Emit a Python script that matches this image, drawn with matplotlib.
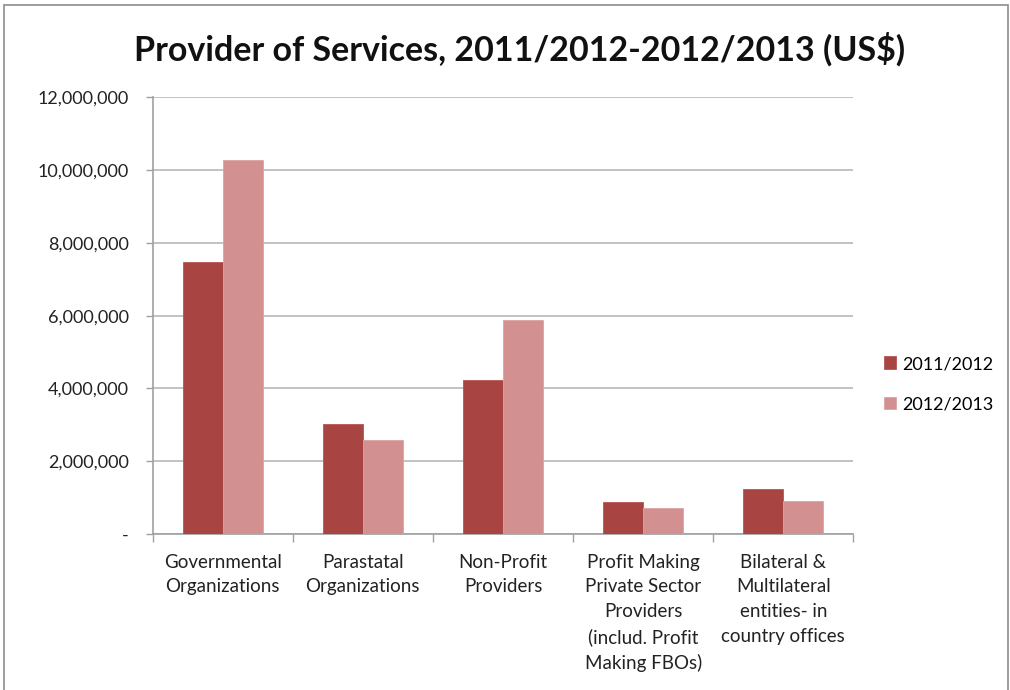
import numpy as np
import matplotlib
matplotlib.use('Agg')
import matplotlib.pyplot as plt
from matplotlib.ticker import FuncFormatter
from matplotlib.patches import Rectangle

categories = [
    "Governmental\nOrganizations",
    "Parastatal\nOrganizations",
    "Non-Profit\nProviders",
    "Profit Making\nPrivate Sector\nProviders\n(includ. Profit\nMaking FBOs)",
    "Bilateral &\nMultilateral\nentities- in\ncountry offices",
]
series_names = ["2011/2012", "2012/2013"]
values_2011 = [7470000, 3020000, 4220000, 870000, 1250000]
values_2012 = [10280000, 2590000, 5890000, 710000, 910000]
yticks = [0, 2000000, 4000000, 6000000, 8000000, 10000000, 12000000]

plt.rcParams['font.family'] = ['Lato', 'DejaVu Sans']

fig = plt.figure(figsize=(10.1, 6.9), dpi=100)
ax = fig.add_axes([0.151, 0.226, 0.694, 0.633])

x = np.arange(len(categories))
w = 0.285
ax.bar(x - w / 2, values_2011, w, color='#A84542', edgecolor='#B85552',
       linewidth=0.6, label=series_names[0], zorder=3)
ax.bar(x + w / 2, values_2012, w, color='#D29090', edgecolor='#DDA3A2',
       linewidth=0.6, label=series_names[1], zorder=3)

ax.set_xlim(-0.5, len(categories) - 0.5)
ax.set_ylim(0, 12000000)
ax.set_yticks(yticks)
ax.yaxis.set_major_formatter(FuncFormatter(lambda v, p: "-" if v == 0 else f"{v:,.0f}"))
ax.grid(axis='y', color='#BDBDBD', linewidth=1.3, zorder=0)

# category labels sit between boundary ticks
ax.set_xticks(x)
ax.set_xticklabels(categories, fontsize=13.5, color='#222222', linespacing=1.55)
ax.tick_params(axis='x', length=0, pad=14)
ax.set_xticks(np.arange(-0.5, len(categories)), minor=True)
ax.tick_params(axis='x', which='minor', length=6, color='#A0A0A0', width=1)
ax.tick_params(axis='y', length=5, color='#A0A0A0', width=1, pad=12,
               labelsize=13, labelcolor='#222222')

for s in ['top', 'right']:
    ax.spines[s].set_visible(False)
for s in ['left', 'bottom']:
    ax.spines[s].set_color('#A0A0A0')
    ax.spines[s].set_linewidth(1.2)

fig.text(0.514, 0.928, "Provider of Services, 2011/2012-2012/2013 (US$)",
         ha='center', va='center', fontsize=24.5, fontweight='bold', color='#111111')

leg = ax.legend(loc='center left', bbox_to_anchor=(1.02, 0.343), frameon=False,
                fontsize=13, handlelength=0.7, handleheight=0.7,
                handletextpad=0.3, labelspacing=1.35)

fig.patches.append(Rectangle((0.004, -0.01), 0.994, 1.003, transform=fig.transFigure,
                             fill=False, edgecolor='#8C8C8C', linewidth=1.2))

fig.savefig('out.png', dpi=100)
